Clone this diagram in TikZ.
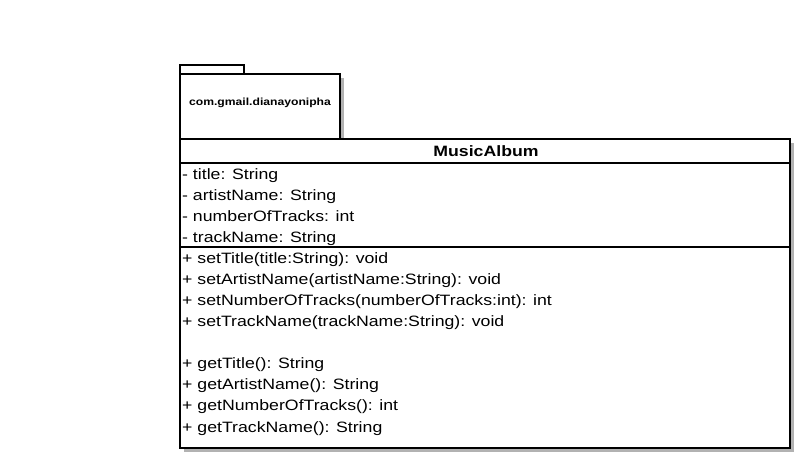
\documentclass[tikz,border=0pt]{standalone}
\usepackage{fontspec}
\setmainfont[FakeStretch=1.18]{Liberation Sans}
\begin{document}
\begin{tikzpicture}[x=1pt,y=-1pt,
  box/.style={draw=black,line width=2pt,fill=white},
  shade/.style={fill=black!30,draw=none},
  member/.style={anchor=base west,inner sep=0pt,font=\fontsize{15}{18}\selectfont},
]
\useasboundingbox (0,0) rectangle (812,470);
% package
\fill[shade] (184,78) rectangle (344,143);
\draw[box] (180,65) rectangle (244,74);
\draw[box] (180,74) rectangle (340,139);
\node[inner sep=0pt,font=\fontsize{10.3}{12}\selectfont\bfseries] (pkg) at (260,103) {com.gmail.dianayonipha};
% class
\fill[shade] (184,143) rectangle (794,452);
\draw[box] (180,139) rectangle (790,448);
\draw[line width=2pt] (180,163.5) -- (790,163.5);
\draw[line width=2pt] (180,247.5) -- (790,247.5);
\node[anchor=base,inner sep=0pt,font=\fontsize{15}{18}\selectfont\bfseries] (cls) at (486,157) {MusicAlbum};
\node[member] (a1) at (182,179.5) {- title: String};
\node[member] (a2) at (182,201) {- artistName: String};
\node[member] (a3) at (182,222) {- numberOfTracks: int};
\node[member] (a4) at (182,243) {- trackName: String};
\node[member] (m1) at (182,264) {+ setTitle(title:String): void};
\node[member] (m2) at (182,285) {+ setArtistName(artistName:String): void};
\node[member] (m3) at (182,306) {+ setNumberOfTracks(numberOfTracks:int): int};
\node[member] (m4) at (182,327) {+ setTrackName(trackName:String): void};
\node[member] (m5) at (182,369) {+ getTitle(): String};
\node[member] (m6) at (182,390) {+ getArtistName(): String};
\node[member] (m7) at (182,411) {+ getNumberOfTracks(): int};
\node[member] (m8) at (182,432) {+ getTrackName(): String};
\end{tikzpicture}
\end{document}
